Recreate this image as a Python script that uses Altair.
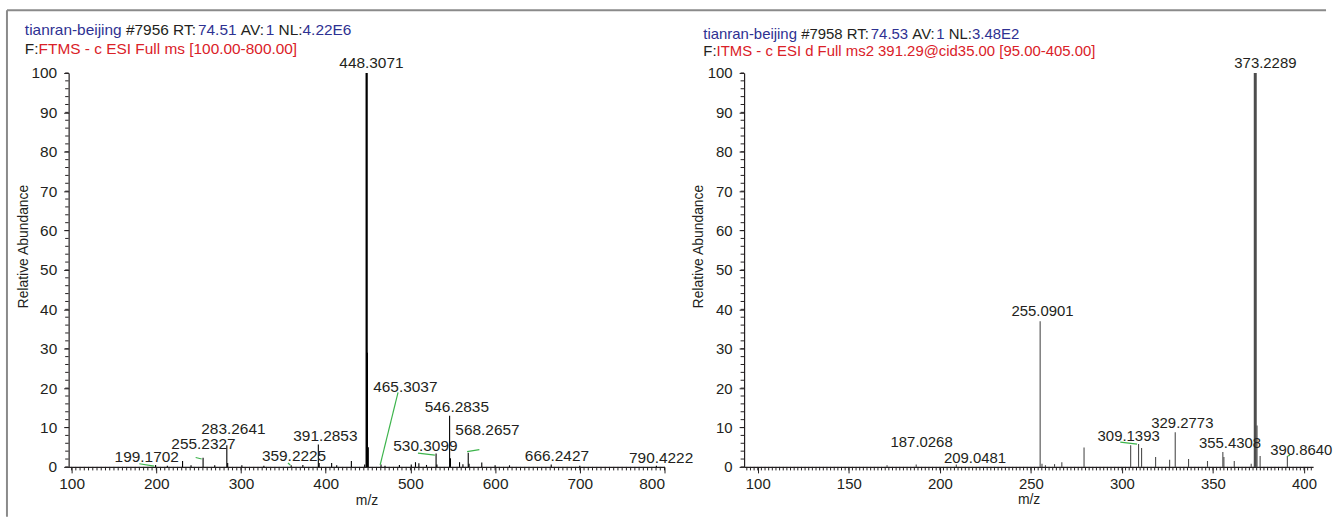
import altair as alt
import pandas as pd

FONT = "Liberation Sans"
BLUE = "#2E3192"
RED = "#DA2128"
BLACK = "#231F20"
GREEN = "#3CB44B"

# ---------------- Left spectrum (FTMS full ms) ----------------
L_MZ = [199.17, 213.0, 231.0, 241.0, 255.23, 269.0, 283.26, 284.27, 301.0, 327.0,
        359.22, 373.0, 391.29, 392.29, 407.0, 413.0, 430.3, 446.0, 448.31, 449.31,
        450.31, 465.30, 470.0, 487.0, 501.0, 506.0, 510.0, 519.0, 530.31, 531.31,
        546.28, 547.29, 558.0, 562.0, 568.27, 569.27, 584.26, 600.0, 617.0, 666.24,
        700.0, 790.42]
L_INT = [0.5, 0.3, 1.5, 0.4, 2.3, 0.4, 5.5, 1.0, 0.4, 0.3,
         0.4, 0.5, 5.7, 1.0, 1.0, 0.4, 1.5, 0.6, 100.0, 29.0,
         5.0, 0.6, 0.3, 0.5, 0.6, 1.2, 0.9, 0.5, 3.4, 0.6,
         13.0, 2.2, 1.2, 0.7, 3.6, 0.8, 1.1, 0.4, 0.4, 0.6,
         0.3, 0.3]
L_LAB_TEXT = ["448.3071", "465.3037", "546.2835", "568.2657", "530.3099", "283.2641",
              "255.2327", "391.2853", "359.2225", "199.1702", "666.2427", "790.4222"]
L_LAB_MZ = [454.0, 494.0, 554.8, 591.0, 517.7, 291.0, 255.7, 399.6, 362.6, 188.7, 673.0, 796.0]
L_LAB_Y = [102.6, 20.4, 15.1, 9.3, 5.3, 9.6, 5.8, 7.8, 2.8, 2.5, 2.8, 2.2]
L_LEAD_MZ1 = [179.9, 246.5, 355.4, 485.4, 508.9, 566.9]
L_LEAD_Y1 = [0.8, 2.4, 1.0, 18.9, 3.5, 3.9]
L_LEAD_MZ2 = [197.5, 253.6, 358.2, 464.3, 528.9, 581.4]
L_LEAD_Y2 = [0.2, 2.0, 0.5, 0.5, 3.0, 4.4]
L_XTICKS = [100, 200, 300, 400, 500, 600, 700, 800]
L_TITLE1 = [("tianran-beijing", BLUE), (" #7956 RT:", BLACK), ("74.51", BLUE),
            (" AV:", BLACK), ("1", BLUE), (" NL:", BLACK), ("4.22E6", BLUE)]
L_TITLE2 = [("F:", BLACK), ("FTMS - c ESI Full ms [100.00-800.00]", RED)]

# ---------------- Right spectrum (ITMS ms2) ----------------
R_MZ = [171.0, 187.03, 209.05, 255.09, 256.1, 258.0, 263.0, 267.0, 279.2, 304.8,
        309.14, 310.8, 318.5, 326.2, 329.28, 336.6, 347.0, 355.43, 356.0, 361.7,
        371.0, 373.23, 374.2, 375.9, 390.86]
R_INT = [0.4, 0.6, 0.6, 37.0, 0.8, 0.4, 0.7, 1.2, 4.9, 5.5,
         5.8, 4.8, 2.5, 1.8, 8.8, 2.0, 1.5, 3.8, 2.5, 1.5,
         0.8, 100.0, 10.5, 2.8, 2.8]
R_LAB_TEXT = ["373.2289", "255.0901", "187.0268", "209.0481", "309.1393", "329.2773",
              "355.4308", "390.8640"]
R_LAB_MZ = [378.8, 256.4, 190.0, 219.3, 303.7, 333.2, 359.4, 398.5]
R_LAB_Y = [102.4, 39.5, 6.3, 2.3, 7.8, 11.1, 6.1, 4.3]
R_LEAD_MZ1 = [299.1, 390.9]
R_LEAD_Y1 = [6.3, 2.7]
R_LEAD_MZ2 = [308.3, 392.3]
R_LEAD_Y2 = [5.8, 3.0]
R_XTICKS = [100, 150, 200, 250, 300, 350, 400]
R_TITLE1 = [("tianran-beijing", BLUE), (" #7958 RT:", BLACK), ("74.53", BLUE),
            (" AV:", BLACK), ("1", BLUE), (" NL:", BLACK), ("3.48E2", BLUE)]
R_TITLE2 = [("F:", BLACK), ("ITMS - c ESI d Full ms2 391.29@cid35.00 [95.00-405.00]", RED)]

Y_TICKS = list(range(0, 101, 10))

# Arial / Liberation Sans advance widths (per 1000 em)
W = {' ': 278, '#': 556, '.': 278, ':': 278, '-': 333, '[': 278, ']': 278, '@': 1015,
     'A': 667, 'B': 667, 'C': 722, 'D': 722, 'E': 667, 'F': 611, 'I': 278, 'L': 556,
     'M': 833, 'N': 722, 'R': 722, 'S': 667, 'T': 611, 'V': 667,
     'a': 556, 'b': 556, 'c': 500, 'd': 556, 'e': 556, 'g': 556, 'i': 222, 'j': 222,
     'l': 222, 'm': 833, 'n': 556, 'r': 333, 's': 500, 't': 278, 'u': 556}


def tw(s, size):
    return sum(W.get(c, 556) for c in s) * size / 1000.0


def title_layers(segments, x0, y0, size):
    layers = []
    x = x0
    one = pd.DataFrame({"a": [0]})
    for txt, col in segments:
        stripped = txt.lstrip(" ")
        lead = tw(txt[: len(txt) - len(stripped)], size)
        layers.append(
            alt.Chart(one).mark_text(font=FONT, fontSize=size, align="left", baseline="middle",
                                     color=col, text=stripped)
            .encode(x=alt.value(x + lead), y=alt.value(y0))
        )
        x += tw(txt, size)
    return layers


def panel(mz, inten, line_color, base_width, lab_text, lab_mz, lab_y,
          l_mz1, l_y1, l_mz2, l_y2, xticks, domain, width, minor_step,
          title1, title2, tpos, fsize, ytitle_pad, frame=False):
    xs = alt.Scale(domain=domain, nice=False, zero=False)
    ys = alt.Scale(domain=[0, 100], nice=False)
    axis_x = alt.Axis(values=xticks, title="m/z", tickSize=6, labelPadding=4, titlePadding=1,
                      format="d", labelFontSize=fsize, titleFontSize=14)
    axis_y = alt.Axis(values=Y_TICKS, title="Relative Abundance", tickSize=5, labelPadding=7,
                      labelFontSize=fsize, titleFontSize=14, titlePadding=ytitle_pad, titleY=174)

    def X(f):
        return alt.X(f, scale=xs, axis=axis_x)

    def Y(f):
        return alt.Y(f, scale=ys, axis=axis_y)

    pk = pd.DataFrame({"mz": mz, "inten": inten, "base": [0] * len(mz)})
    peaks = alt.Chart(pk).mark_rule(color=line_color, strokeWidth=1.1).encode(
        x=X("mz:Q"), y=Y("inten:Q"), y2="base:Q")
    base = alt.Chart(pk).transform_filter("datum.inten >= 100").mark_rule(
        color=line_color, strokeWidth=base_width).encode(
        x=X("mz:Q"), y=Y("inten:Q"), y2="base:Q")
    lab = alt.Chart(pd.DataFrame({"t": lab_text, "mz": lab_mz, "y": lab_y})).mark_text(
        font=FONT, fontSize=fsize, color=BLACK, align="center", baseline="middle").encode(
        x=X("mz:Q"), y=Y("y:Q"), text="t:N")
    lead = alt.Chart(pd.DataFrame({"m1": l_mz1, "y1": l_y1, "m2": l_mz2, "y2": l_y2})).mark_rule(
        color=GREEN, strokeWidth=1.2).encode(
        x=X("m1:Q"), x2="m2:Q", y=Y("y1:Q"), y2="y2:Q")
    lo = int(domain[0] // minor_step + 1) * minor_step
    minor_vals = []
    v = lo
    while v <= domain[1] + 1e-9:
        minor_vals.append(v)
        v += minor_step
    mx = alt.Chart(pd.DataFrame({"t": minor_vals})).mark_rule(color=BLACK, strokeWidth=1).encode(
        x=X("t:Q"), y=alt.value(396), y2=alt.value(399.5))
    my = alt.Chart(pd.DataFrame({"t": list(range(0, 101, 2))})).mark_rule(color=BLACK, strokeWidth=1).encode(
        y=Y("t:Q"), x=alt.value(-3.5), x2=alt.value(0))
    layers = [peaks, base, lead, lab, mx, my]
    layers += title_layers(title1, tpos[0], tpos[1], fsize)
    layers += title_layers(title2, tpos[0], tpos[2], fsize)
    if frame:
        one = pd.DataFrame({"a": [0]})
        layers.append(alt.Chart(one).mark_rule(color="#8A8A8A", strokeWidth=2).encode(
            x=alt.value(-62), y=alt.value(-63), y2=alt.value(446)))
        layers.append(alt.Chart(one).mark_rule(color="#8A8A8A", strokeWidth=2).encode(
            x=alt.value(-62), x2=alt.value(1264), y=alt.value(-63)))
    return alt.layer(*layers).properties(width=width, height=396)


left = panel(L_MZ, L_INT, "#000000", 2.2, L_LAB_TEXT, L_LAB_MZ, L_LAB_Y,
             L_LEAD_MZ1, L_LEAD_Y1, L_LEAD_MZ2, L_LEAD_Y2, L_XTICKS, [96.5, 800], 599, 5,
             L_TITLE1, L_TITLE2, (-44, -43, -24), 15.5, 0, frame=True)
right = panel(R_MZ, R_INT, "#4D4D4D", 3.0, R_LAB_TEXT, R_LAB_MZ, R_LAB_Y,
              R_LEAD_MZ1, R_LEAD_Y1, R_LEAD_MZ2, R_LEAD_Y2, R_XTICKS, [92.5, 405], 572, 2,
              R_TITLE1, R_TITLE2, (-41, -39, -22), 15, 2)

chart = alt.hconcat(left, right, spacing=80, bounds="flush").properties(
    padding={"left": 6, "top": 8, "right": 0, "bottom": 0}
).configure_view(stroke=None).configure_axis(
    grid=False, domainColor=BLACK, tickColor=BLACK, labelColor=BLACK, titleColor=BLACK,
    labelFont=FONT, titleFont=FONT, titleFontWeight="normal", domainWidth=1.2,
)

chart.save("out.html", embed_options={"renderer": "svg", "actions": False})
